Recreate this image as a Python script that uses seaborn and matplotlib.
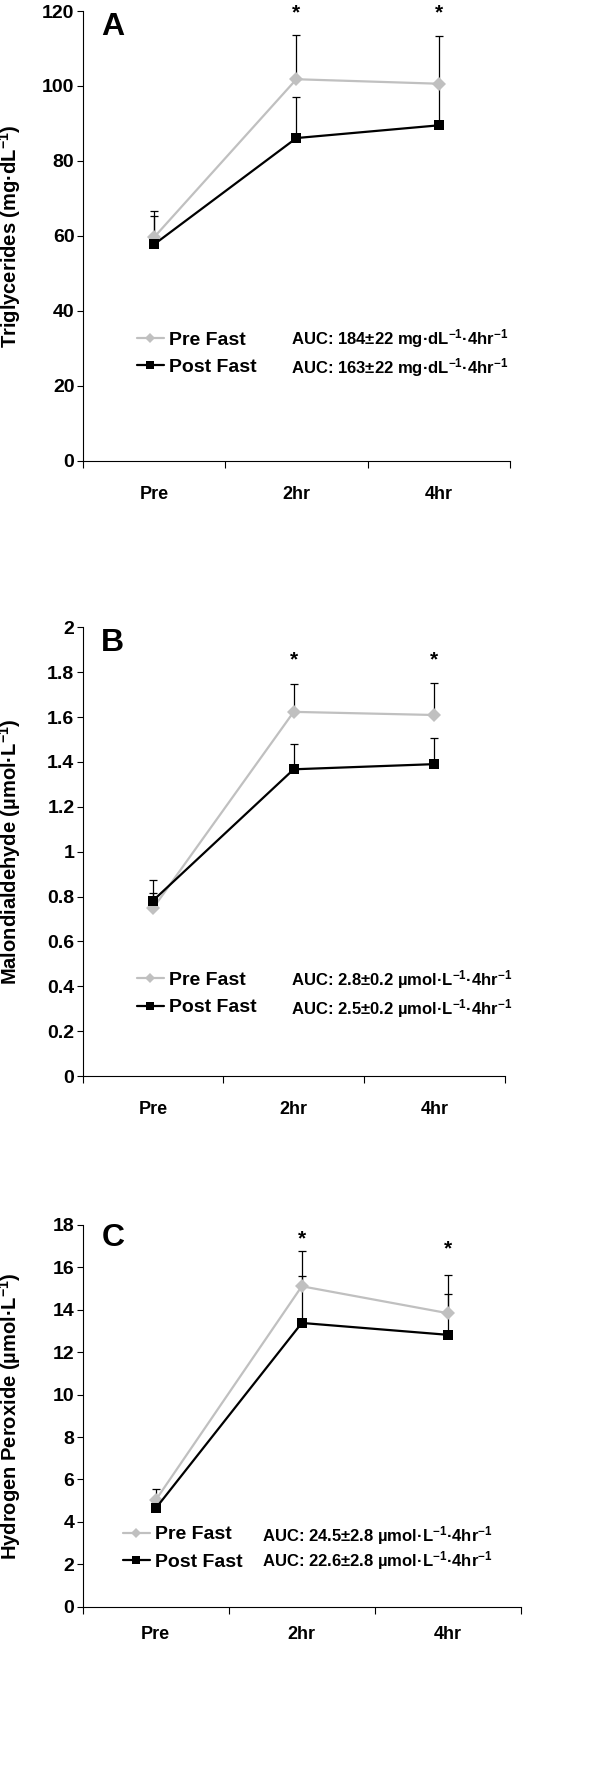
import numpy as np
import pandas as pd
import matplotlib.pyplot as plt
import matplotlib.transforms as mtransforms
import seaborn as sns

sns.set_theme(style="ticks")
plt.rcParams['font.family'] = ['Liberation Sans', 'DejaVu Sans']
plt.rcParams['font.weight'] = 'bold'
plt.rcParams['axes.labelweight'] = 'bold'
plt.rcParams['text.color'] = 'black'
plt.rcParams['axes.labelcolor'] = 'black'
plt.rcParams['xtick.color'] = 'black'
plt.rcParams['ytick.color'] = 'black'
plt.rcParams['mathtext.fontset'] = 'custom'
plt.rcParams['mathtext.rm'] = 'Liberation Sans:bold'
plt.rcParams['mathtext.bf'] = 'Liberation Sans:bold'
plt.rcParams['mathtext.it'] = 'Liberation Sans:bold'
plt.rcParams['mathtext.default'] = 'bf'

times = ["Pre", "2hr", "4hr"]
groups = ["Pre Fast", "Post Fast"]

# A - triglycerides
tg_pre = [59.6, 101.8, 100.6]
tg_pre_se = [6.9, 11.8, 12.8]
tg_post = [57.7, 86.1, 89.5]
tg_post_se = [7.6, 11.0, 11.0]
tg_auc = ["AUC: 184±22 mg·dL$^{-1}$·4hr$^{-1}$", "AUC: 163±22 mg·dL$^{-1}$·4hr$^{-1}$"]
tg_star = [None, 119.5, 119.5]

# B - malondialdehyde
mda_pre = [0.748, 1.623, 1.609]
mda_pre_se = [0.067, 0.123, 0.143]
mda_post = [0.782, 1.367, 1.390]
mda_post_se = [0.092, 0.112, 0.118]
mda_auc = ["AUC: 2.8±0.2 µmol·L$^{-1}$·4hr$^{-1}$", "AUC: 2.5±0.2 µmol·L$^{-1}$·4hr$^{-1}$"]
mda_star = [None, 1.855, 1.855]

# C - hydrogen peroxide
hp_pre = [5.03, 15.11, 13.84]
hp_pre_se = [0.51, 1.68, 1.81]
hp_post = [4.64, 13.38, 12.82]
hp_post_se = [0.40, 2.22, 1.93]
hp_auc = ["AUC: 24.5±2.8 µmol·L$^{-1}$·4hr$^{-1}$", "AUC: 22.6±2.8 µmol·L$^{-1}$·4hr$^{-1}$"]
hp_star = [None, 17.35, 16.85]

colors = {"Pre Fast": "#c0c0c0", "Post Fast": "black"}
markers = {"Pre Fast": "D", "Post Fast": "s"}

fig = plt.figure(figsize=(6, 17.8), dpi=100)


def panel(rect, letter, pre, pre_se, post, post_se, ymax, ystep, ylabel, auc, stars,
          leg_xy, auc_xy, xpad=18):
    ax = fig.add_axes(rect)
    x = np.arange(len(times))
    df = pd.DataFrame({
        "pos": np.concatenate([x, x]),
        "value": pre + post,
        "group": [groups[0]] * len(x) + [groups[1]] * len(x),
    })
    ax.errorbar(x, pre, yerr=[np.zeros(len(x)), pre_se], fmt='none', ecolor='black',
                elinewidth=0.9, capsize=2.6, capthick=0.9, zorder=1.5)
    ax.errorbar(x, post, yerr=[np.zeros(len(x)), post_se], fmt='none', ecolor='black',
                elinewidth=0.9, capsize=2.6, capthick=0.9, zorder=1.5)
    sns.lineplot(data=df, x="pos", y="value", hue="group", style="group",
                 hue_order=groups, style_order=groups, palette=colors,
                 markers=markers, dashes=False, errorbar=None, linewidth=1.6,
                 markersize=7, markeredgewidth=0, ax=ax)

    ax.set_xlim(-0.5, len(times) - 0.5)
    ax.set_ylim(0, ymax)
    yt = np.arange(0, ymax + ystep / 2, ystep).round(3)
    ax.set_yticks(yt)
    ax.set_yticklabels([f"{v:g}" for v in yt])
    ax.set_xticks(x)
    ax.set_xticklabels(times)
    ax.set_xticks(np.arange(-0.5, len(times)), minor=True)
    ax.tick_params(axis='x', which='major', length=0, pad=xpad, labelsize=13)
    ax.tick_params(axis='x', which='minor', length=5, width=0.8, color='black', direction='out')
    ax.tick_params(axis='y', length=4, width=0.8, color='black', pad=2, labelsize=14)
    for lab in ax.get_xticklabels() + ax.get_yticklabels():
        lab.set_fontweight('bold')
    ax.set_xlabel("")
    ax.set_ylabel(ylabel, fontsize=14.5, fontweight='bold')
    ax.yaxis.set_label_coords(0.039, 0.5, transform=mtransforms.blended_transform_factory(
        fig.transFigure, ax.transAxes))
    sns.despine(ax=ax)
    for s in ["left", "bottom"]:
        ax.spines[s].set_color('black')
        ax.spines[s].set_linewidth(0.8)

    for xi, sy in zip(x, stars):
        if sy is not None:
            ax.text(xi, sy, "*", ha='center', va='center', fontsize=15, fontweight='bold')
    ax.text(0.043, 0.965, letter, transform=ax.transAxes, ha='left', va='center',
            fontsize=23, fontweight='bold')

    handles, labels = ax.get_legend_handles_labels()
    ax.legend(handles, labels, loc='center left', bbox_to_anchor=leg_xy, frameon=False,
              fontsize=14, handlelength=1.4, handletextpad=0.25, labelspacing=0.5,
              borderpad=0, borderaxespad=0, markerscale=0.8)
    ax.text(auc_xy[0], auc_xy[1], auc[0], transform=ax.transAxes, ha='left', va='center',
            fontsize=12, fontweight='bold')
    ax.text(auc_xy[0], auc_xy[2], auc[1], transform=ax.transAxes, ha='left', va='center',
            fontsize=12, fontweight='bold')
    return ax


panel([0.138, 0.7412, 0.712, 0.2526], "A", tg_pre, tg_pre_se, tg_post, tg_post_se,
      120, 20, "Triglycerides (mg·dL$^{-1}$)", tg_auc, tg_star,
      (0.126, 0.238), (0.487, 0.271, 0.206))
panel([0.138, 0.3955, 0.703, 0.2521], "B", mda_pre, mda_pre_se, mda_post, mda_post_se,
      2, 0.2, "Malondialdehyde (µmol·L$^{-1}$)", mda_auc, mda_star,
      (0.128, 0.183), (0.493, 0.2155, 0.151))
panel([0.138, 0.0974, 0.730, 0.2144], "C", hp_pre, hp_pre_se, hp_post, hp_post_se,
      18, 2, "Hydrogen Peroxide (µmol·L$^{-1}$)", hp_auc, hp_star,
      (0.091, 0.153), (0.409, 0.185, 0.1205), xpad=14)

fig.savefig("out.png", dpi=100)
